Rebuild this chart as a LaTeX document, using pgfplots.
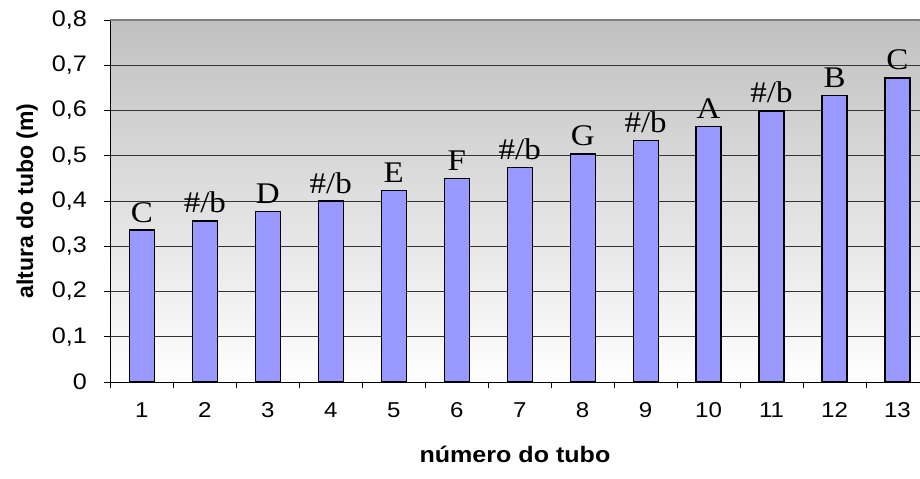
\documentclass[border=0pt]{standalone}
\usepackage{pgfplots}
\pgfplotsset{compat=1.18}
\usepackage{fontspec}
\setmainfont{Liberation Sans}[FakeStretch=1.12]
\newfontfamily\ylabfont{Liberation Sans}
\newfontfamily\notefont{Liberation Serif}[FakeStretch=1.1]
\definecolor{barfill}{RGB}{153,153,255}
\definecolor{bgtop}{RGB}{192,192,192}
\newcommand\sharpflat{\#/b}
\begin{document}
\begin{tikzpicture}
% fixed frame for the whole picture
\path (0pt,0pt) rectangle (920pt,-479pt);
\begin{axis}[
  at={(110.5pt,-382.3pt)}, anchor=south west,
  scale only axis, width=809.5pt, height=362.3pt,
  xmin=0.5, xmax=13.35, ymin=0, ymax=0.8,
  axis background/.style={top color=bgtop, bottom color=white},
  axis x line*=bottom, axis y line*=left,
  axis line style={black, line width=1pt, -},
  ybar, bar width=25pt,
  xtick={1,...,13},
  minor xtick={0.5,1.5,...,12.5},
  major x tick style={draw=none},
  minor x tick style={black, line width=0.8pt},
  ytick={0,0.1,...,0.8},
  y tick style={black, line width=0.8pt},
  tick align=outside,
  major tick length=6pt, minor tick length=6pt,
  ymajorgrids,
  major y grid style={black!80, line width=0.9pt},
  xticklabel style={font=\fontsize{21.5}{25}\selectfont, yshift=-11pt},
  yticklabel style={font=\fontsize{22.5}{26}\selectfont, anchor=east, xshift=-14pt,
    /pgf/number format/fixed, /pgf/number format/precision=1, /pgf/number format/use comma},
  /pgf/number format/assume math mode=true,
  xlabel={número do tubo},
  ylabel={altura do tubo (m)},
  xlabel style={font=\bfseries\fontsize{22.4}{26}\selectfont, at={(axis description cs:0.5,-0.2)}, anchor=center},
  ylabel style={font=\ylabfont\bfseries\fontsize{23}{26}\selectfont, at={(axis description cs:-0.103,0.5)}, anchor=center},
  point meta=explicit symbolic,
  nodes near coords,
  every node near coord/.append style={font=\notefont\fontsize{30}{32}\selectfont, anchor=base, yshift=8pt, inner sep=0pt},
]
\addplot[fill=barfill, draw=black, line width=1.2pt] coordinates {
  (1,0.336) [C]
  (2,0.356) [\sharpflat]
  (3,0.377) [D]
  (4,0.400) [\sharpflat]
  (5,0.423) [E]
  (6,0.449) [F]
  (7,0.475) [\sharpflat]
  (8,0.504) [G]
  (9,0.534) [\sharpflat]
  (10,0.565) [A]
  (11,0.599) [\sharpflat]
  (12,0.634) [B]
  (13,0.672) [C]
};
\draw[gray, line width=1.5pt] (rel axis cs:0,1) -- (rel axis cs:1,1);
\end{axis}
\end{tikzpicture}
\end{document}
